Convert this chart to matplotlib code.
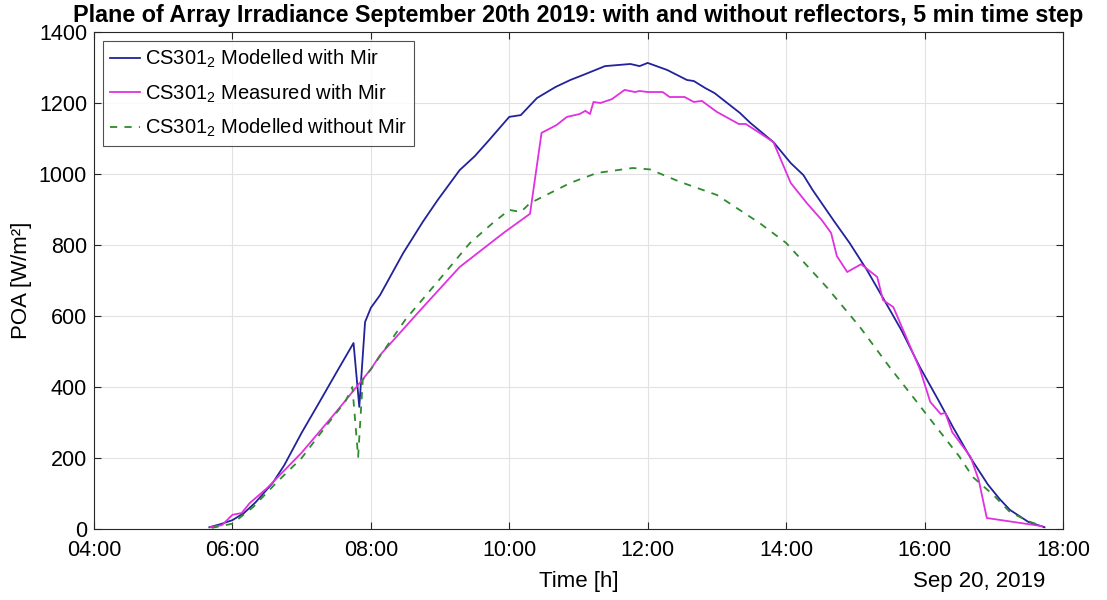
import matplotlib
matplotlib.use("Agg")
import matplotlib.pyplot as plt
import matplotlib.dates as mdates
import pandas as pd

plt.rcParams['font.family'] = ['Liberation Sans', 'DejaVu Sans']
plt.rcParams['mathtext.default'] = 'regular'

DAY = "2019-09-20 "

mod_mir_t = ["05:40","05:50","06:00","06:10","06:20","06:35","06:45","07:00","07:15","07:30",
             "07:45","07:50","07:55","08:00","08:08","08:28","08:45","08:58","09:17","09:30",
             "09:41","10:00","10:10","10:24","10:40","10:53","11:04","11:23","11:45","11:53",
             "12:00","12:17","12:34","12:40","12:50","12:58","13:20","13:29","13:49","14:04",
             "14:15","14:23","14:41","14:55","15:10","15:24","15:40","15:56","16:12","16:25",
             "16:40","16:55","17:05","17:14","17:30","17:44"]
mod_mir_v = [5, 14, 25, 45, 75, 130, 180, 271, 355, 440,
             524, 344, 583, 623, 659, 777, 865, 927, 1011, 1050,
             1090, 1161, 1166, 1214, 1245, 1265, 1279, 1304, 1310, 1304,
             1313, 1293, 1265, 1262, 1242, 1228, 1172, 1144, 1090, 1031,
             997, 955, 870, 806, 730, 651, 560, 456, 363, 285,
             200, 125, 85, 54, 20, 5]

meas_mir_t = ["05:41","05:51","06:00","06:08","06:15","06:30","07:00","07:30","07:50","08:00",
              "08:08","08:43","09:17","09:55","10:18","10:28","10:41","10:50","11:01","11:06",
              "11:10","11:13","11:19","11:29","11:40","11:49","11:53","12:00","12:13","12:19",
              "12:32","12:40","12:47","13:00","13:19","13:25","13:37","13:49","14:04","14:18",
              "14:31","14:39","14:44","14:53","15:05","15:19","15:24","15:33","15:56","16:05",
              "16:14","16:18","16:24","16:40","16:47","16:54","17:42"]
meas_mir_v = [5, 11, 40, 45, 73, 115, 215, 330, 410, 450,
              490, 617, 738, 834, 888, 1116, 1138, 1161, 1169, 1178,
              1169, 1203, 1200, 1211, 1237, 1231, 1234, 1231, 1231, 1217,
              1217, 1203, 1206, 1175, 1141, 1141, 1116, 1090, 975, 918,
              870, 834, 769, 724, 746, 710, 645, 625, 450, 358,
              324, 327, 273, 203, 138, 31, 8]

mod_nomir_t = ["05:42","06:00","06:18","06:38","07:00","07:20","07:38","07:44","07:49","07:53",
               "08:00","08:30","08:37","09:00","09:26","09:45","10:00","10:10","10:18","10:53",
               "11:16","11:47","12:02","12:28","13:00","13:29","13:37","14:00","14:35","15:04",
               "15:30","15:50","16:00","16:30","16:42","17:00","17:14","17:30","17:42"]
mod_nomir_v = [3, 15, 62, 130, 200, 285, 360, 400, 203, 420,
               450, 590, 617, 705, 806, 860, 899, 893, 918, 975,
               1003, 1017, 1013, 978, 941, 879, 862, 806, 682, 569,
               455, 372, 330, 205, 146, 95, 48, 22, 8]

def to_dt(ts):
    return pd.to_datetime([DAY + t for t in ts])

fig = plt.figure(figsize=(11.07, 6.0), dpi=100)
ax = fig.add_axes([0.0849, 0.1183, 0.8753, 0.8283])

ax.plot(to_dt(mod_mir_t), mod_mir_v, color='#22229a', lw=1.3,
        label='CS301$_2$ Modelled with Mir')
ax.plot(to_dt(meas_mir_t), meas_mir_v, color='#e030e0', lw=1.3,
        label='CS301$_2$ Measured with Mir')
ax.plot(to_dt(mod_nomir_t), mod_nomir_v, color='#2e8b2e', lw=1.3, ls=(0, (4, 4)),
        label='CS301$_2$ Modelled without Mir')

ax.set_xlim(pd.Timestamp(DAY + "04:00"), pd.Timestamp(DAY + "18:00"))
ax.set_ylim(0, 1400)
ax.set_yticks(range(0, 1401, 200))
ax.xaxis.set_major_locator(mdates.HourLocator(byhour=range(4, 19, 2)))
ax.xaxis.set_major_formatter(mdates.DateFormatter('%H:%M'))

ax.grid(True, color='#e2e2e2', lw=0.8)
ax.set_axisbelow(True)
ax.tick_params(direction='in', top=True, right=True, labelsize=15.5, length=5,
               color='#262626')
ax.tick_params(axis='x', pad=8)
ax.tick_params(axis='y', pad=5)
for s in ax.spines.values():
    s.set_color('#262626')
    s.set_linewidth(0.8)

ax.set_xlabel('Time [h]', fontsize=16, labelpad=7)
ax.set_ylabel('POA [W/m²]', fontsize=16, labelpad=5)
ax.set_title('Plane of Array Irradiance September 20th 2019: with and without reflectors, 5 min time step',
             fontsize=16.8, fontweight='bold', pad=7)
fig.text(0.944, 0.03, 'Sep 20, 2019', fontsize=16, ha='right', va='center')

leg = ax.legend(loc='upper left', fontsize=14.5, frameon=True, fancybox=False,
                edgecolor='#262626', handlelength=1.5, handletextpad=0.25,
                borderaxespad=0.45, labelspacing=0.6, borderpad=0.35)
leg.get_frame().set_linewidth(0.8)

fig.savefig('out.png', dpi=100)
